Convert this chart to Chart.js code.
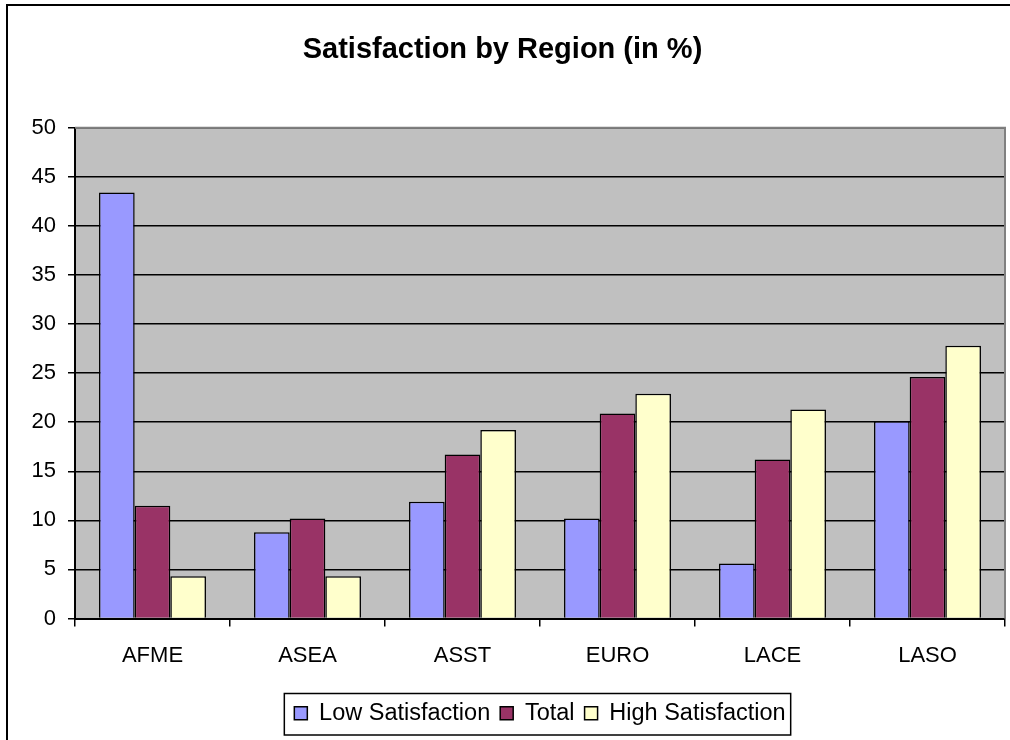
<!DOCTYPE html>
<html>
<head>
<meta charset="utf-8">
<script src="https://cdn.jsdelivr.net/npm/chart.js@4/dist/chart.umd.min.js"></script>
<style>
    html, body { margin: 0; padding: 0; background: #fff; }
    #wrap { width: 1010px; height: 740px; }
</style>
</head>
<body>
<div id="wrap"><canvas id="satChart" width="1010" height="740"></canvas></div>
<script>
// データ
const regions = ['AFME', 'ASEA', 'ASST', 'EURO', 'LACE', 'LASO'];
const lowSatisfaction = [43.4, 8.8, 11.9, 10.2, 5.6, 20.1];
const totalValues = [11.5, 10.2, 16.7, 20.9, 16.2, 24.6];
const highSatisfaction = [4.3, 4.3, 19.2, 22.9, 21.3, 27.8];
const yTicks = [0, 5, 10, 15, 20, 25, 30, 35, 40, 45, 50];

const FONT = "'Liberation Sans', Arial, sans-serif";

// プロット背景と外枠
const framePlugin = {
    id: 'frame',
    beforeDraw(chart) {
        const ctx = chart.ctx;
        const a = chart.chartArea;
        ctx.save();
        ctx.fillStyle = '#fff';
        ctx.fillRect(0, 0, chart.width, chart.height);
        ctx.fillStyle = '#C0C0C0';
        ctx.fillRect(a.left, a.top, a.right - a.left, a.bottom - a.top);
        ctx.strokeStyle = '#000';
        ctx.lineWidth = 2;
        ctx.strokeRect(7, 5, chart.width + 20, chart.height + 20);
        ctx.restore();
    },
    afterDatasetsDraw(chart) {
        const ctx = chart.ctx;
        const a = chart.chartArea;
        ctx.save();
        ctx.strokeStyle = '#808080';
        ctx.lineWidth = 2;
        ctx.beginPath();
        ctx.moveTo(a.left, a.top);
        ctx.lineTo(a.right, a.top);
        ctx.lineTo(a.right, a.bottom);
        ctx.stroke();
        ctx.restore();
    },
    afterDraw(chart) {
        // 凡例の枠
        const boxes = chart.legend.legendHitBoxes;
        if (!boxes || !boxes.length) return;
        const left = Math.min(...boxes.map(b => b.left)) - 10;
        const right = Math.max(...boxes.map(b => b.left + b.width)) + 5;
        const top = Math.min(...boxes.map(b => b.top)) - 8;
        const bottom = Math.max(...boxes.map(b => b.top + b.height)) + 10;
        const ctx = chart.ctx;
        ctx.save();
        ctx.strokeStyle = '#000';
        ctx.lineWidth = 1.5;
        ctx.strokeRect(left, top, right - left, bottom - top);
        ctx.restore();
    }
};

const ctx = document.getElementById('satChart').getContext('2d');
const satChart = new Chart(ctx, {
    type: 'bar',
    data: {
        labels: regions,
        datasets: [
            {
                label: 'Low Satisfaction',
                data: lowSatisfaction,
                backgroundColor: '#9999FF',
                borderColor: '#000',
                borderWidth: 1.5
            },
            {
                label: 'Total',
                data: totalValues,
                backgroundColor: '#993366',
                borderColor: '#000',
                borderWidth: 1.5
            },
            {
                label: 'High Satisfaction',
                data: highSatisfaction,
                backgroundColor: '#FFFFCC',
                borderColor: '#000',
                borderWidth: 1.5
            }
        ]
    },
    options: {
        responsive: false,
        animation: false,
        layout: {
            padding: { left: 0, right: 5, top: 0, bottom: 5 }
        },
        datasets: {
            bar: {
                categoryPercentage: 0.69,
                barPercentage: 1.0
            }
        },
        scales: {
            y: {
                min: 0,
                max: 50,
                afterFit(scale) { scale.width = 75; },
                afterBuildTicks(scale) { scale.ticks = yTicks.map(v => ({ value: v })); },
                ticks: {
                    color: '#000',
                    padding: 12,
                    font: { family: FONT, size: 22 }
                },
                grid: {
                    color: '#000',
                    lineWidth: 1.5,
                    tickLength: 7
                },
                border: { color: '#000', width: 2 }
            },
            x: {
                afterFit(scale) { scale.height = 73; },
                ticks: {
                    color: '#000',
                    padding: 16,
                    font: { family: FONT, size: 22 }
                },
                grid: {
                    offset: true,
                    drawOnChartArea: false,
                    color: '#000',
                    lineWidth: 1.5,
                    tickLength: 8
                },
                border: { color: '#000', width: 2 }
            }
        },
        plugins: {
            title: {
                display: true,
                text: 'Satisfaction by Region (in %)',
                color: '#000',
                font: { family: FONT, size: 29, weight: 'bold' },
                padding: { top: 33, bottom: 60 }
            },
            legend: {
                position: 'bottom',
                fullSize: false,
                labels: {
                    color: '#000',
                    boxWidth: 13,
                    boxHeight: 13,
                    padding: 10,
                    font: { family: FONT, size: 23.5 }
                }
            },
            tooltip: { enabled: false }
        }
    },
    plugins: [framePlugin]
});
</script>
</body>
</html>
